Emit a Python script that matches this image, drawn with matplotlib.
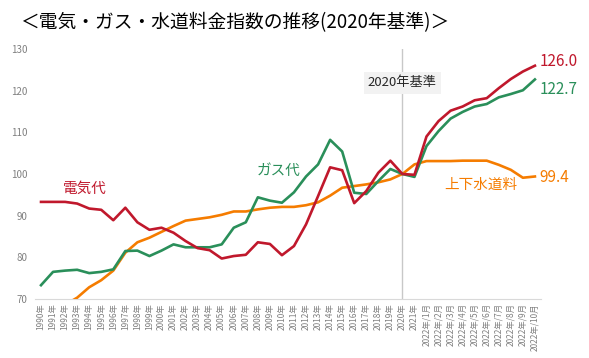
import numpy as np
import matplotlib
matplotlib.use('Agg')
import matplotlib.pyplot as plt

plt.rcParams['font.family'] = ['Noto Sans CJK JP', 'DejaVu Sans']

## categories
years = [str(y) + '年' for y in range(1990, 2022)]
months = ['2022年/' + str(m) + '月' for m in range(1, 11)]
labels = years + months

## index values (2020 = 100)
elec = [93.3, 93.3, 93.3, 92.9, 91.7, 91.4, 88.9, 91.9, 88.4, 86.6,
        87.1, 85.9, 83.9, 82.2, 81.7, 79.7, 80.3, 80.6, 83.6, 83.2,
        80.5, 82.7, 87.9, 94.7, 101.6, 100.9, 93.0, 95.9, 100.3, 103.2,
        100.0, 99.8,
        109.0, 112.7, 115.2, 116.2, 117.7, 118.2, 120.6, 122.8, 124.6, 126.0]
gas = [73.3, 76.5, 76.8, 77.0, 76.2, 76.5, 77.1, 81.5, 81.6, 80.3,
       81.6, 83.1, 82.4, 82.4, 82.4, 83.1, 87.1, 88.4, 94.4, 93.6,
       93.1, 95.6, 99.4, 102.3, 108.2, 105.4, 95.5, 95.2, 98.3, 101.2,
       100.0, 99.3,
       106.7, 110.3, 113.3, 114.9, 116.2, 116.8, 118.4, 119.2, 120.1, 122.7]
water = [66.0, 67.3, 68.6, 70.3, 72.8, 74.5, 76.8, 81.1, 83.6, 84.7,
         86.1, 87.5, 88.8, 89.2, 89.6, 90.2, 91.0, 91.0, 91.5, 91.9,
         92.1, 92.1, 92.5, 93.2, 94.8, 96.7, 97.1, 97.5, 98.0, 98.7,
         100.0, 102.3,
         103.1, 103.1, 103.1, 103.2, 103.2, 103.2, 102.2, 101.0, 99.1, 99.4]

red = '#C0182C'
green = '#2A8F5A'
orange = '#F57C00'

fig = plt.figure(figsize=(5.89, 3.58), dpi=100)
ax = fig.add_axes([0.0594, 0.165, 0.859, 0.698])

x = np.arange(len(labels))
ax.axvline(30, color='#C8C8C8', lw=1.0, zorder=1)
ax.plot(x, water, color=orange, lw=1.9, zorder=3)
ax.plot(x, gas, color=green, lw=1.9, zorder=3)
ax.plot(x, elec, color=red, lw=1.9, zorder=4)

ax.set_xlim(-0.5, len(labels) - 0.5)
ax.set_ylim(70, 130)
ax.set_yticks(np.arange(70, 131, 10))
ax.set_xticks(x)
ax.set_xticklabels(labels, rotation=90, fontsize=6, color='#808080')
ax.tick_params(axis='y', length=0, labelsize=7, labelcolor='#808080', pad=5.5)
ax.tick_params(axis='x', length=0, pad=3)
for s in ['top', 'right', 'left']:
    ax.spines[s].set_visible(False)
ax.spines['bottom'].set_color('#D9D9D9')

## annotations
ax.text(30, 121.9, '2020年基準', ha='center', va='center', fontsize=9.5,
        color='#262626', bbox=dict(facecolor='#F2F2F2', edgecolor='none', pad=3))
ax.text(3.65, 96.5, '電気代', color=red, fontsize=10.5, ha='center', va='center')
ax.text(19.7, 100.8, 'ガス代', color=green, fontsize=10.5, ha='center', va='center')
ax.text(36.5, 97.5, '上下水道料', color=orange, fontsize=10.5, ha='center', va='center')
ax.text(41.4, 127.0, '126.0', color=red, fontsize=11, ha='left', va='center')
ax.text(41.4, 120.2, '122.7', color=green, fontsize=11, ha='left', va='center')
ax.text(41.4, 99.1, '99.4', color=orange, fontsize=11, ha='left', va='center')

fig.text(0.034, 0.936, '＜電気・ガス・水道料金指数の推移(2020年基準)＞',
         fontsize=13.5, va='center', ha='left')

fig.savefig('out.png', dpi=100)
